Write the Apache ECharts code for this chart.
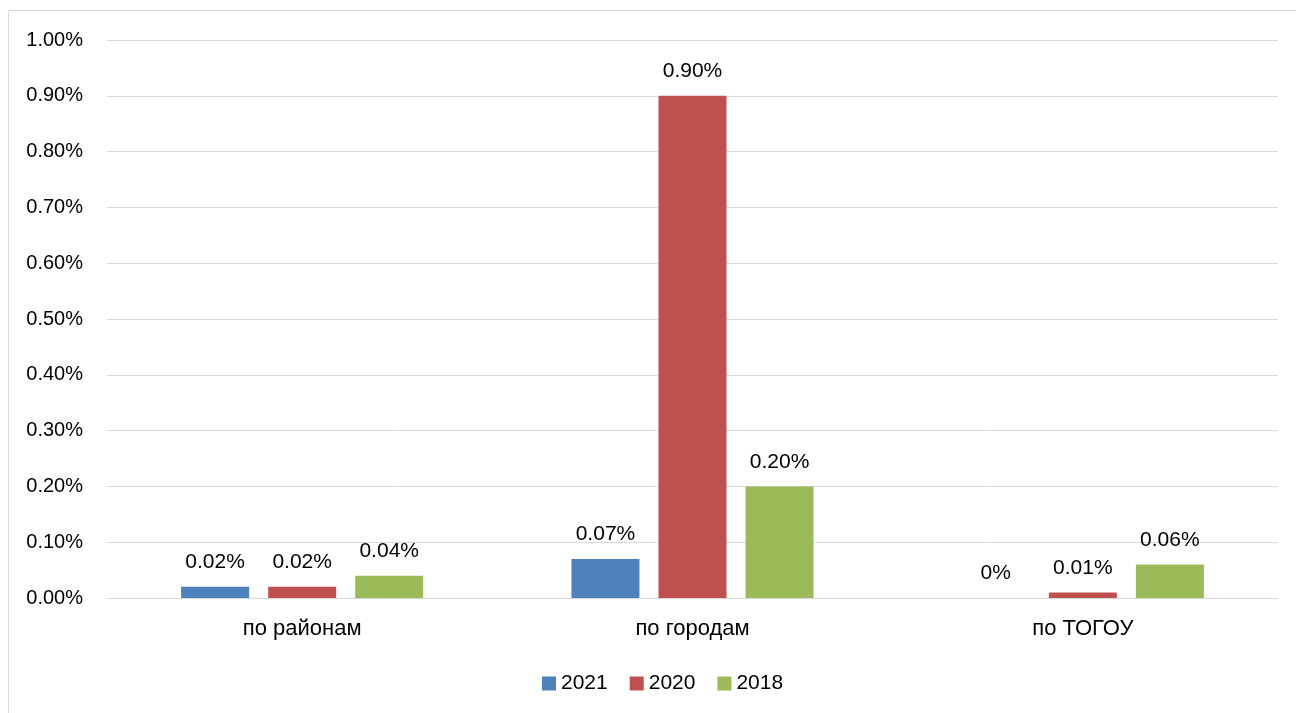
<!DOCTYPE html>
<html><head><meta charset="utf-8">
<script src="https://cdn.jsdelivr.net/npm/echarts@6/dist/echarts.min.js"></script>
<style>html,body{margin:0;padding:0;background:#fff}#c{width:1296px;height:713px}</style>
</head><body><div id="c"></div>
<script>
const categories = ['по районам', 'по городам', 'по ТОГОУ'];
const seriesNames = ['2021', '2020', '2018'];
const values2021 = [0.02, 0.07, 0];
const values2020 = [0.02, 0.90, 0.01];
const values2018 = [0.04, 0.20, 0.06];
const colors = ['#4f81bd', '#c0504d', '#9bbb59'];
const FONT = 'Liberation Sans';

const chart = echarts.init(document.getElementById('c'));
function mk(name, data, color) {
  return {
    name: name, type: 'bar', data: data, barWidth: 68, barGap: '28%',
    itemStyle: { color: color },
    label: {
      show: true, position: 'top', distance: 14, color: '#000',
      fontFamily: FONT, fontSize: 21,
      formatter: p => p.value === 0 ? '0%' : p.value.toFixed(2) + '%'
    }
  };
}
chart.setOption({
  animation: false,
  textStyle: { fontFamily: FONT },
  graphic: [{ type: 'rect', shape: { x: 8.5, y: 10.5, width: 1400, height: 800 },
    style: { fill: 'none', stroke: '#d9d9d9', lineWidth: 1 }, silent: true }],
  grid: { left: 107, right: 18, top: 40, bottom: 115 },
  legend: {
    bottom: 14, left: 537, itemWidth: 14, itemHeight: 14, itemGap: 22,
    icon: 'rect',
    textStyle: { fontFamily: FONT, fontSize: 21, color: '#000' },
    data: seriesNames
  },
  xAxis: {
    type: 'category', data: categories,
    axisLine: { show: true, lineStyle: { color: '#d9d9d9' } },
    axisTick: { show: false },
    axisLabel: { color: '#000', fontFamily: FONT, fontSize: 22, margin: 20 }
  },
  yAxis: {
    type: 'value', min: 0, max: 1, interval: 0.1,
    axisLine: { show: false }, axisTick: { show: false },
    splitLine: { lineStyle: { color: '#d9d9d9', width: 1 } },
    axisLabel: { color: '#000', fontFamily: FONT, fontSize: 20, margin: 24,
      formatter: v => v.toFixed(2) + '%' }
  },
  series: [
    mk(seriesNames[0], values2021, colors[0]),
    mk(seriesNames[1], values2020, colors[1]),
    mk(seriesNames[2], values2018, colors[2])
  ]
});
</script></body></html>
